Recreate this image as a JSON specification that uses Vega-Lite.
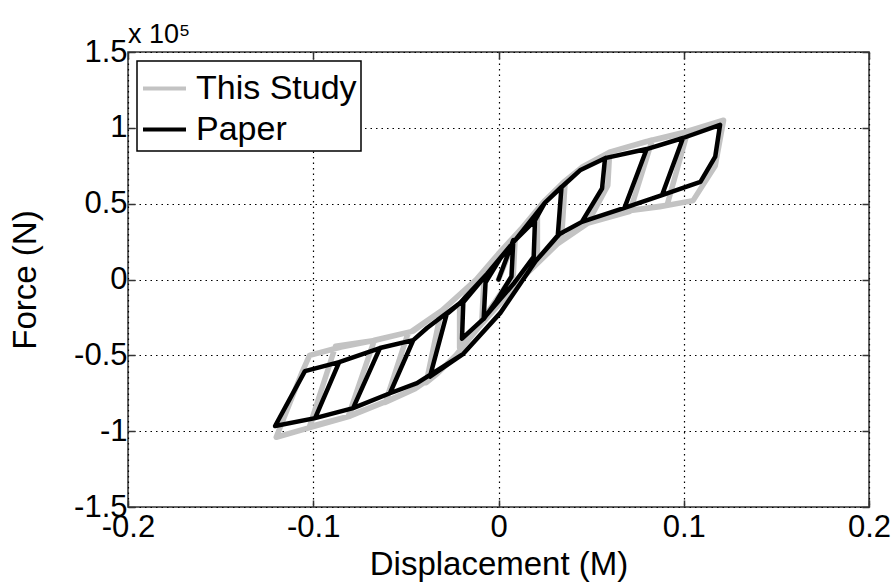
{
"$schema": "https://vega.github.io/schema/vega-lite/v6.json",
"width": 741,
"height": 455,
"autosize": {"type": "none"},
"padding": {"left": 128, "top": 52, "right": 25, "bottom": 75},
"background": "white",
"config": {
  "font": "Liberation Sans",
  "view": {"stroke": "#333333", "strokeWidth": 1.5},
  "legend": {
    "orient": "top-left", "offset": 9, "strokeColor": "#000000", "fillColor": "#ffffff",
    "padding": 4, "labelFontSize": 34, "labelColor": "#000000", "labelFont": "Liberation Sans",
    "symbolType": "stroke", "symbolStrokeWidth": 4, "symbolSize": 1849, "rowPadding": 0,
    "labelOffset": 8, "labelLimit": 400, "strokeWidth": 1.5
  }
},
"title": {"text": "x 10⁵", "anchor": "start", "frame": "group", "fontSize": 27, "fontWeight": "normal", "font": "Liberation Sans", "offset": -13, "color": "#000000"},
"datasets": {
"gray": [
{"i":1,"x":0,"f":0},{"i":2,"x":0.009,"f":0.27},{"i":3,"x":0.008,"f":0.03},{"i":4,"x":-0.001,"f":-0.13},{"i":5,"x":-0.009,"f":-0.27},{"i":6,"x":-0.008,"f":-0.03},{"i":7,"x":0.0,"f":0.17},{"i":8,"x":0.012,"f":0.33},{"i":9,"x":0.021,"f":0.45},{"i":10,"x":0.021,"f":0.18},
{"i":11,"x":0.009,"f":-0.03},{"i":12,"x":-0.01,"f":-0.29},{"i":13,"x":-0.021,"f":-0.45},{"i":14,"x":-0.021,"f":-0.18},{"i":15,"x":-0.012,"f":0.0},{"i":16,"x":0.0,"f":0.17},{"i":17,"x":0.012,"f":0.33},{"i":18,"x":0.025,"f":0.52},{"i":19,"x":0.036,"f":0.65},{"i":20,"x":0.034,"f":0.26},
{"i":21,"x":0.012,"f":0.0},{"i":22,"x":0.0,"f":-0.17},{"i":23,"x":-0.011,"f":-0.32},{"i":24,"x":-0.023,"f":-0.5},{"i":25,"x":-0.033,"f":-0.62},{"i":26,"x":-0.039,"f":-0.68},{"i":27,"x":-0.031,"f":-0.21},{"i":28,"x":-0.012,"f":0.0},{"i":29,"x":0.0,"f":0.17},{"i":30,"x":0.012,"f":0.33},
{"i":31,"x":0.025,"f":0.52},{"i":32,"x":0.035,"f":0.64},{"i":33,"x":0.045,"f":0.74},{"i":34,"x":0.06,"f":0.84},{"i":35,"x":0.059,"f":0.62},{"i":36,"x":0.048,"f":0.37},{"i":37,"x":0.03,"f":0.22},{"i":38,"x":0.012,"f":0.0},{"i":39,"x":0.0,"f":-0.17},{"i":40,"x":-0.011,"f":-0.32},
{"i":41,"x":-0.023,"f":-0.5},{"i":42,"x":-0.033,"f":-0.62},{"i":43,"x":-0.045,"f":-0.72},{"i":44,"x":-0.061,"f":-0.81},{"i":45,"x":-0.049,"f":-0.36},{"i":46,"x":-0.03,"f":-0.2},{"i":47,"x":-0.012,"f":0.0},{"i":48,"x":0.0,"f":0.17},{"i":49,"x":0.012,"f":0.33},{"i":50,"x":0.025,"f":0.52},
{"i":51,"x":0.035,"f":0.64},{"i":52,"x":0.045,"f":0.74},{"i":53,"x":0.06,"f":0.84},{"i":54,"x":0.083,"f":0.92},{"i":55,"x":0.071,"f":0.45},{"i":56,"x":0.045,"f":0.36},{"i":57,"x":0.03,"f":0.22},{"i":58,"x":0.012,"f":0.0},{"i":59,"x":0.0,"f":-0.17},{"i":60,"x":-0.011,"f":-0.32},
{"i":61,"x":-0.023,"f":-0.5},{"i":62,"x":-0.033,"f":-0.62},{"i":63,"x":-0.045,"f":-0.72},{"i":64,"x":-0.06,"f":-0.8},{"i":65,"x":-0.081,"f":-0.9},{"i":66,"x":-0.067,"f":-0.4},{"i":67,"x":-0.046,"f":-0.34},{"i":68,"x":-0.03,"f":-0.2},{"i":69,"x":-0.012,"f":0.0},{"i":70,"x":0.0,"f":0.17},
{"i":71,"x":0.012,"f":0.33},{"i":72,"x":0.025,"f":0.52},{"i":73,"x":0.035,"f":0.64},{"i":74,"x":0.045,"f":0.74},{"i":75,"x":0.06,"f":0.84},{"i":76,"x":0.08,"f":0.91},{"i":77,"x":0.102,"f":0.97},{"i":78,"x":0.091,"f":0.49},{"i":79,"x":0.065,"f":0.445},{"i":80,"x":0.045,"f":0.36},
{"i":81,"x":0.03,"f":0.22},{"i":82,"x":0.012,"f":0.0},{"i":83,"x":0.0,"f":-0.17},{"i":84,"x":-0.011,"f":-0.32},{"i":85,"x":-0.023,"f":-0.5},{"i":86,"x":-0.033,"f":-0.62},{"i":87,"x":-0.045,"f":-0.72},{"i":88,"x":-0.06,"f":-0.8},{"i":89,"x":-0.08,"f":-0.9},{"i":90,"x":-0.102,"f":-0.97},
{"i":91,"x":-0.088,"f":-0.44},{"i":92,"x":-0.066,"f":-0.4},{"i":93,"x":-0.046,"f":-0.34},{"i":94,"x":-0.03,"f":-0.2},{"i":95,"x":-0.012,"f":0.0},{"i":96,"x":0.0,"f":0.17},{"i":97,"x":0.012,"f":0.33},{"i":98,"x":0.025,"f":0.52},{"i":99,"x":0.035,"f":0.64},{"i":100,"x":0.045,"f":0.74},
{"i":101,"x":0.06,"f":0.84},{"i":102,"x":0.08,"f":0.91},{"i":103,"x":0.1,"f":0.97},{"i":104,"x":0.1215,"f":1.05},{"i":105,"x":0.117,"f":0.75},{"i":106,"x":0.105,"f":0.52},{"i":107,"x":0.087,"f":0.48},{"i":108,"x":0.065,"f":0.445},{"i":109,"x":0.045,"f":0.36},{"i":110,"x":0.03,"f":0.22},
{"i":111,"x":0.012,"f":0.0},{"i":112,"x":0.0,"f":-0.17},{"i":113,"x":-0.011,"f":-0.32},{"i":114,"x":-0.023,"f":-0.5},{"i":115,"x":-0.033,"f":-0.62},{"i":116,"x":-0.045,"f":-0.72},{"i":117,"x":-0.06,"f":-0.8},{"i":118,"x":-0.08,"f":-0.9},{"i":119,"x":-0.1,"f":-0.97},{"i":120,"x":-0.12,"f":-1.04},
{"i":121,"x":-0.106,"f":-0.61},{"i":122,"x":-0.102,"f":-0.5},{"i":123,"x":-0.085,"f":-0.445},{"i":124,"x":-0.066,"f":-0.4},{"i":125,"x":-0.046,"f":-0.34},{"i":126,"x":-0.03,"f":-0.2},{"i":127,"x":-0.012,"f":0.0}
],
"black": [
{"i":1,"x":0,"f":0},{"i":2,"x":0.008,"f":0.26},{"i":3,"x":0.007,"f":0.02},{"i":4,"x":-0.001,"f":-0.14},{"i":5,"x":-0.008,"f":-0.26},{"i":6,"x":-0.007,"f":-0.02},{"i":7,"x":0.001,"f":0.14},{"i":8,"x":0.009,"f":0.26},{"i":9,"x":0.0197,"f":0.39},{"i":10,"x":0.019,"f":0.15},
{"i":11,"x":0.008,"f":-0.03},{"i":12,"x":-0.009,"f":-0.27},{"i":13,"x":-0.0197,"f":-0.39},{"i":14,"x":-0.019,"f":-0.15},{"i":15,"x":-0.006,"f":0.04},{"i":16,"x":0.009,"f":0.26},{"i":17,"x":0.0197,"f":0.39},{"i":18,"x":0.025,"f":0.505},{"i":19,"x":0.034,"f":0.61},{"i":20,"x":0.032,"f":0.29},
{"i":21,"x":0.02,"f":0.12},{"i":22,"x":0.001,"f":-0.22},{"i":23,"x":-0.019,"f":-0.49},{"i":24,"x":-0.037,"f":-0.64},{"i":25,"x":-0.028,"f":-0.23},{"i":26,"x":-0.0208,"f":-0.155},{"i":27,"x":-0.006,"f":0.04},{"i":28,"x":0.009,"f":0.26},{"i":29,"x":0.025,"f":0.505},{"i":30,"x":0.0332,"f":0.6},
{"i":31,"x":0.044,"f":0.72},{"i":32,"x":0.0575,"f":0.8},{"i":33,"x":0.0559,"f":0.6},{"i":34,"x":0.045,"f":0.38},{"i":35,"x":0.033,"f":0.3},{"i":36,"x":0.02,"f":0.12},{"i":37,"x":0.001,"f":-0.22},{"i":38,"x":-0.019,"f":-0.49},{"i":39,"x":-0.044,"f":-0.683},{"i":40,"x":-0.0586,"f":-0.75},
{"i":41,"x":-0.046,"f":-0.4},{"i":42,"x":-0.0386,"f":-0.32},{"i":43,"x":-0.0208,"f":-0.155},{"i":44,"x":-0.006,"f":0.04},{"i":45,"x":0.009,"f":0.26},{"i":46,"x":0.025,"f":0.505},{"i":47,"x":0.0332,"f":0.6},{"i":48,"x":0.044,"f":0.72},{"i":49,"x":0.0575,"f":0.8},{"i":50,"x":0.08,"f":0.86},
{"i":51,"x":0.068,"f":0.472},{"i":52,"x":0.045,"f":0.38},{"i":53,"x":0.033,"f":0.3},{"i":54,"x":0.02,"f":0.12},{"i":55,"x":0.001,"f":-0.22},{"i":56,"x":-0.019,"f":-0.49},{"i":57,"x":-0.044,"f":-0.683},{"i":58,"x":-0.0586,"f":-0.75},{"i":59,"x":-0.0785,"f":-0.848},{"i":60,"x":-0.064,"f":-0.452},
{"i":61,"x":-0.046,"f":-0.4},{"i":62,"x":-0.0386,"f":-0.32},{"i":63,"x":-0.0208,"f":-0.155},{"i":64,"x":-0.006,"f":0.04},{"i":65,"x":0.009,"f":0.26},{"i":66,"x":0.025,"f":0.505},{"i":67,"x":0.0332,"f":0.6},{"i":68,"x":0.044,"f":0.72},{"i":69,"x":0.0575,"f":0.8},{"i":70,"x":0.08,"f":0.86},
{"i":71,"x":0.0996,"f":0.933},{"i":72,"x":0.0883,"f":0.557},{"i":73,"x":0.068,"f":0.472},{"i":74,"x":0.045,"f":0.38},{"i":75,"x":0.033,"f":0.3},{"i":76,"x":0.02,"f":0.12},{"i":77,"x":0.001,"f":-0.22},{"i":78,"x":-0.019,"f":-0.49},{"i":79,"x":-0.044,"f":-0.683},{"i":80,"x":-0.0586,"f":-0.75},
{"i":81,"x":-0.0785,"f":-0.848},{"i":82,"x":-0.099,"f":-0.914},{"i":83,"x":-0.086,"f":-0.545},{"i":84,"x":-0.064,"f":-0.452},{"i":85,"x":-0.046,"f":-0.4},{"i":86,"x":-0.0386,"f":-0.32},{"i":87,"x":-0.0208,"f":-0.155},{"i":88,"x":-0.006,"f":0.04},{"i":89,"x":0.009,"f":0.26},{"i":90,"x":0.025,"f":0.505},
{"i":91,"x":0.0332,"f":0.6},{"i":92,"x":0.044,"f":0.72},{"i":93,"x":0.0575,"f":0.8},{"i":94,"x":0.08,"f":0.86},{"i":95,"x":0.0996,"f":0.933},{"i":96,"x":0.1196,"f":1.02},{"i":97,"x":0.117,"f":0.81},{"i":98,"x":0.109,"f":0.643},{"i":99,"x":0.0883,"f":0.557},{"i":100,"x":0.068,"f":0.472},
{"i":101,"x":0.045,"f":0.38},{"i":102,"x":0.033,"f":0.3},{"i":103,"x":0.02,"f":0.12},{"i":104,"x":0.001,"f":-0.22},{"i":105,"x":-0.019,"f":-0.49},{"i":106,"x":-0.044,"f":-0.683},{"i":107,"x":-0.0586,"f":-0.75},{"i":108,"x":-0.0785,"f":-0.848},{"i":109,"x":-0.099,"f":-0.914},{"i":110,"x":-0.1206,"f":-0.966},
{"i":111,"x":-0.1045,"f":-0.604},{"i":112,"x":-0.086,"f":-0.545},{"i":113,"x":-0.064,"f":-0.452},{"i":114,"x":-0.046,"f":-0.4},{"i":115,"x":-0.0386,"f":-0.32},{"i":116,"x":-0.0208,"f":-0.155},{"i":117,"x":-0.006,"f":0.04}
]
},
"layer": [
{
  "data": {"name": "gray"},
  "transform": [{"calculate": "'This Study'", "as": "s"}],
  "mark": {"type": "line", "strokeWidth": 5.5, "strokeJoin": "round", "strokeCap": "round"},
  "encoding": {
    "x": {"field": "x", "type": "quantitative", "scale": {"domain": [-0.2, 0.2], "nice": false, "zero": false},
      "axis": {"orient": "bottom", "values": [-0.2, -0.1, 0, 0.1, 0.2], "labelExpr": "'' + datum.value", "labelFontSize": 31, "labelColor": "#000000",
        "labelPadding": 12, "tickSize": -7, "tickColor": "#333333", "tickWidth": 1.5, "domain": false, "grid": true, "gridDash": [1.5, 4], "gridColor": "#000000", "gridWidth": 1.2,
        "title": "Displacement (M)", "titleFontSize": 33, "titleFontWeight": "normal", "titleColor": "#000000", "titlePadding": 6, "labelFlush": false}},
    "y": {"field": "f", "type": "quantitative", "scale": {"domain": [-1.5, 1.5], "nice": false, "zero": false},
      "axis": {"orient": "left", "values": [-1.5, -1, -0.5, 0, 0.5, 1, 1.5], "labelExpr": "'' + datum.value", "labelFontSize": 31, "labelColor": "#000000",
        "labelPadding": 8, "tickSize": -7, "tickColor": "#333333", "tickWidth": 1.5, "domain": false, "grid": true, "gridDash": [1.5, 4], "gridColor": "#000000", "gridWidth": 1.2,
        "title": "Force (N)", "titleFontSize": 33, "titleFontWeight": "normal", "titleColor": "#000000", "titlePadding": 31, "labelFlush": false}},
    "color": {"field": "s", "type": "nominal", "scale": {"domain": ["This Study", "Paper"], "range": ["#c3c3c3", "#000000"]}, "legend": {"title": null}},
    "order": {"field": "i", "type": "quantitative"}
  }
},
{
  "data": {"name": "black"},
  "transform": [{"calculate": "'Paper'", "as": "s"}],
  "mark": {"type": "line", "strokeWidth": 4.5, "strokeJoin": "round", "strokeCap": "round"},
  "encoding": {
    "x": {"field": "x", "type": "quantitative", "scale": {"domain": [-0.2, 0.2], "nice": false, "zero": false},
      "axis": {"orient": "top", "values": [-0.2, -0.1, 0, 0.1, 0.2], "labels": false, "tickSize": -7, "tickColor": "#333333", "tickWidth": 1.5, "domain": false, "grid": false, "title": null}},
    "y": {"field": "f", "type": "quantitative", "scale": {"domain": [-1.5, 1.5], "nice": false, "zero": false},
      "axis": {"orient": "right", "values": [-1.5, -1, -0.5, 0, 0.5, 1, 1.5], "labels": false, "tickSize": -7, "tickColor": "#333333", "tickWidth": 1.5, "domain": false, "grid": false, "title": null}},
    "color": {"field": "s", "type": "nominal", "scale": {"domain": ["This Study", "Paper"], "range": ["#c3c3c3", "#000000"]}, "legend": {"title": null}},
    "order": {"field": "i", "type": "quantitative"}
  }
}
],
"resolve": {"axis": {"x": "independent", "y": "independent"}}
}
